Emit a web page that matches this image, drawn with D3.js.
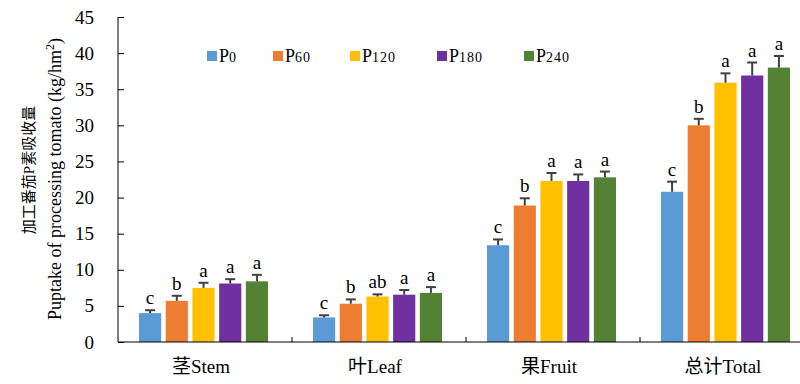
<!DOCTYPE html>
<html>
<head>
<meta charset="utf-8">
<script src="https://cdn.jsdelivr.net/npm/d3@7"></script>
<style>
  body { margin: 0; background: #fff; }
  text { font-family: "Liberation Serif", "Times New Roman", "Noto Sans CJK SC", serif; }
</style>
</head>
<body>
<div id="chart"></div>
<script>
// data
const categories = ["茎Stem", "叶Leaf", "果Fruit", "总计Total"];
const series = ["P0", "P60", "P120", "P180", "P240"];
const colors = ["#5B9BD5", "#ED7D31", "#FFC000", "#7030A0", "#548235"];
// mean values, one array per series (Stem, Leaf, Fruit, Total)
const p0 = [4.0, 3.4, 13.4, 20.8];
const p60 = [5.7, 5.3, 18.9, 30.0];
const p120 = [7.5, 6.3, 22.3, 35.9];
const p180 = [8.1, 6.55, 22.3, 36.9];
const p240 = [8.4, 6.8, 22.8, 38.0];
// error bar half-lengths
const e0 = [0.4, 0.3, 0.8, 1.4];
const e60 = [0.7, 0.6, 1.0, 0.9];
const e120 = [0.7, 0.3, 1.1, 1.3];
const e180 = [0.6, 0.65, 0.9, 1.8];
const e240 = [0.9, 0.8, 0.8, 1.6];
// significance letters
const l0 = ["c", "c", "c", "c"];
const l60 = ["b", "b", "b", "b"];
const l120 = ["a", "ab", "a", "a"];
const l180 = ["a", "a", "a", "a"];
const l240 = ["a", "a", "a", "a"];
const yTicks = [0, 5, 10, 15, 20, 25, 30, 35, 40, 45];

const values = [p0, p60, p120, p180, p240];
const errors = [e0, e60, e120, e180, e240];
const letters = [l0, l60, l120, l180, l240];

const W = 800, H = 384;
const margin = { top: 17, right: -14, bottom: 42, left: 118 };
const width = W - margin.left - margin.right,
  height = H - margin.top - margin.bottom;

const svg = d3.select("#chart").append("svg")
  .attr("width", W).attr("height", H);

const g = svg.append("g")
  .attr("transform", `translate(${margin.left},${margin.top})`);

const x0 = d3.scaleBand().domain(categories).range([0, width]).paddingInner(0).paddingOuter(0);
const x1 = d3.scaleBand().domain(series).range([21, x0.bandwidth() - 24]).paddingInner(0.17).paddingOuter(0);
const y = d3.scaleLinear().domain([0, 45]).range([height, 0]);

// bars
const rows = [];
categories.forEach((c, ci) => {
  series.forEach((s, si) => {
    rows.push({ c, s, si, v: values[si][ci], e: errors[si][ci], l: letters[si][ci] });
  });
});

const grp = g.selectAll(".bar").data(rows).enter().append("g")
  .attr("transform", d => `translate(${x0(d.c) + x1(d.s)},0)`);

grp.append("rect")
  .attr("x", 0).attr("y", d => y(d.v))
  .attr("width", x1.bandwidth())
  .attr("height", d => y(0) - y(d.v))
  .attr("fill", d => colors[d.si]);

const bw = x1.bandwidth();
grp.append("line")
  .attr("x1", bw / 2).attr("x2", bw / 2)
  .attr("y1", d => y(d.v)).attr("y2", d => y(d.v + d.e))
  .attr("stroke", "#404040").attr("stroke-width", 2);
grp.append("line")
  .attr("x1", bw / 2 - 5).attr("x2", bw / 2 + 5)
  .attr("y1", d => y(d.v + d.e)).attr("y2", d => y(d.v + d.e))
  .attr("stroke", "#404040").attr("stroke-width", 2);
grp.append("text")
  .attr("x", bw / 2).attr("y", d => y(d.v + d.e) - 6)
  .attr("text-anchor", "middle")
  .attr("font-size", 19)
  .attr("fill", "#000")
  .text(d => d.l);

// y axis
const yAxis = g.append("g")
  .call(d3.axisLeft(y).tickValues(yTicks).tickSize(-6).tickPadding(24));
yAxis.select(".domain").attr("stroke", "#000").attr("d", `M0,${height}V0`);
yAxis.selectAll(".tick line").attr("stroke", "#000");
yAxis.selectAll(".tick text").attr("font-size", 19).attr("fill", "#000")
  .attr("font-family", "Liberation Serif");

// x axis
const xAxis = g.append("g").attr("transform", `translate(0,${height})`);
xAxis.append("line").attr("x1", 0).attr("x2", width).attr("stroke", "#000");
xAxis.selectAll(".sep").data(categories.slice(1)).enter().append("line")
  .attr("x1", d => x0(d)).attr("x2", d => x0(d))
  .attr("y1", 0).attr("y2", -5).attr("stroke", "#000");
xAxis.selectAll(".lab").data(categories).enter().append("text")
  .attr("x", d => x0(d) + x0.bandwidth() / 2 - 4)
  .attr("y", 31)
  .attr("text-anchor", "middle")
  .attr("font-size", 19)
  .attr("fill", "#000")
  .text(d => d);

// y axis title
const title = svg.append("g");
title.append("text")
  .attr("transform", "translate(34,170) rotate(-90)")
  .attr("text-anchor", "middle")
  .attr("font-size", 15)
  .attr("font-family", "Noto Sans CJK SC")
  .text("加工番茄P素吸收量");
const t2 = title.append("text")
  .attr("transform", "translate(61,179) rotate(-90)")
  .attr("text-anchor", "middle")
  .attr("font-size", 18);
t2.append("tspan").text("Puptake of processing tomato (kg/hm");
t2.append("tspan").attr("font-size", 12).attr("dy", -7).text("2");
t2.append("tspan").attr("dy", 7).text(")");

// legend
const legendX = [207, 273, 350, 437, 524];
const leg = svg.selectAll(".leg").data(series).enter().append("g")
  .attr("transform", (d, i) => `translate(${legendX[i]},51)`);
leg.append("rect").attr("width", 10).attr("height", 10)
  .attr("fill", (d, i) => colors[i]);
const lt = leg.append("text").attr("x", 12).attr("y", 11).attr("font-size", 18);
lt.append("tspan").text("P");
lt.append("tspan").attr("font-size", 14).attr("letter-spacing", 1).text(d => d.slice(1));
</script>
</body>
</html>
